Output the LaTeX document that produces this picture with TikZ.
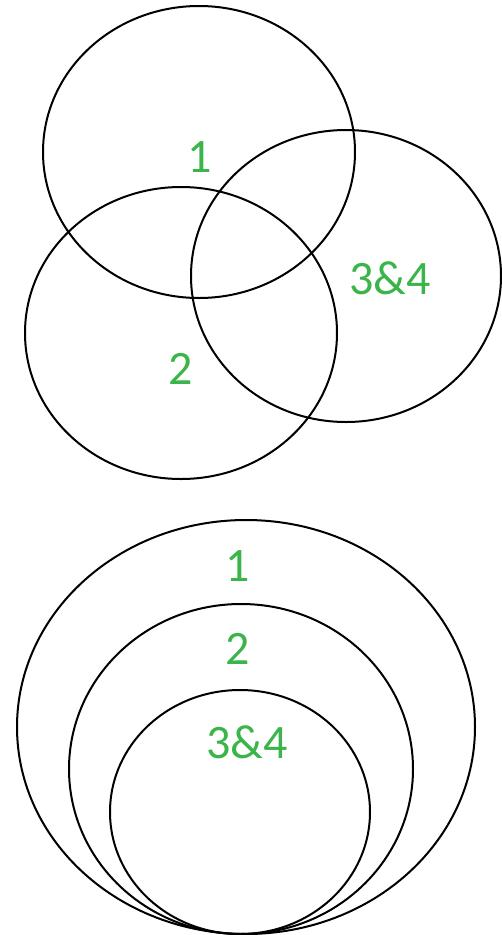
\documentclass[tikz,border=0pt]{standalone}
\usepackage{fontspec}
\setmainfont{Carlito}
\definecolor{lblgreen}{RGB}{59,180,74}
\begin{document}
\begin{tikzpicture}[x=1pt,y=-1pt,
  ring/.style={draw=black,line width=2pt},
  lbl/.style={text=lblgreen,font=\fontsize{48}{50}\selectfont,inner sep=0pt}]
\useasboundingbox (0,0) rectangle (502,935);
% top Venn
\draw[ring] (199,152) ellipse [x radius=156, y radius=146];
\draw[ring] (181,333) ellipse [x radius=156, y radius=146];
\draw[ring] (346,276) ellipse [x radius=155, y radius=146];
\node[lbl] (t1) at (200,157) {1};
\node[lbl] (t34) at (390,278) {3\&4};
\node[lbl] (t2) at (181,369) {2};
% bottom nested
\draw[ring] (246,727) ellipse [x radius=229, y radius=207];
\draw[ring] (241,769) ellipse [x radius=172, y radius=165];
\draw[ring] (240,812) ellipse [x radius=130, y radius=122];
\node[lbl] (b1) at (238,566) {1};
\node[lbl] (b2) at (238,649) {2};
\node[lbl] (b34) at (247,742) {3\&4};
\end{tikzpicture}
\end{document}
